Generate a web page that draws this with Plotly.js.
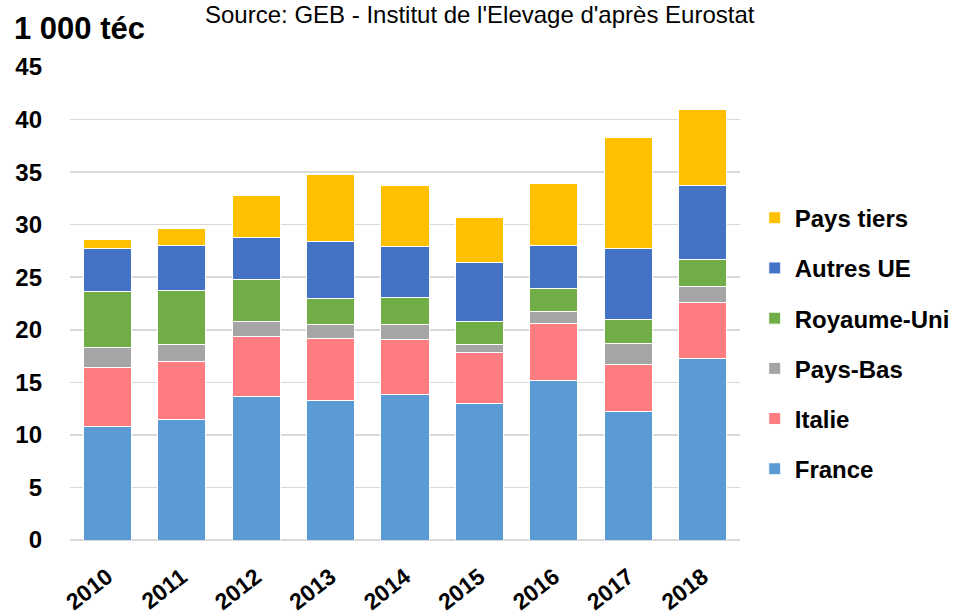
<!DOCTYPE html>
<html>
<head>
<meta charset="utf-8">
<script src="https://cdn.plot.ly/plotly-3.0.1.min.js"></script>
<style>html,body{margin:0;padding:0;background:#fff;}#chart{width:959px;height:616px;}</style>
</head>
<body>
<div id="chart"></div>
<script>
var years = ["2010","2011","2012","2013","2014","2015","2016","2017","2018"];
var france    = [10.8, 11.5, 13.7, 13.3, 13.85, 13.0, 15.2, 12.2, 17.3];
var italie    = [5.6, 5.5, 5.7, 5.9, 5.2, 4.8, 5.4, 4.5, 5.25];
var paysBas   = [1.9, 1.6, 1.4, 1.3, 1.5, 0.8, 1.1, 2.0, 1.55];
var royaumeUni= [5.3, 5.1, 4.0, 2.5, 2.5, 2.2, 2.2, 2.3, 2.6];
var autresUE  = [4.1, 4.3, 4.0, 5.4, 4.9, 5.6, 4.1, 6.7, 7.0];
var paysTiers = [0.9, 1.6, 4.0, 6.4, 5.8, 4.3, 5.9, 10.6, 7.3];

var seriesNames = ["France","Italie","Pays-Bas","Royaume-Uni","Autres UE","Pays tiers"];
var seriesData = [france, italie, paysBas, royaumeUni, autresUE, paysTiers];
var colors = ["#5b9bd5","#ff7c80","#a5a5a5","#70ad47","#4472c4","#ffc000"];

var traces = seriesNames.map(function(n,i){
  return {
    type:"bar", name:n, x:years, y:seriesData[i],
    legendgroup:"g"+i, legendrank:1000 - i*10,
    marker:{color:colors[i], line:{color:"#ffffff", width:1}},
    hoverinfo:"x+y+name"
  };
});

var font = "Liberation Sans, Arial, sans-serif";
var layout = {
  width:959, height:616,
  margin:{l:70, r:219, t:67, b:76, pad:0, autoexpand:false},
  paper_bgcolor:"#ffffff", plot_bgcolor:"#ffffff",
  barmode:"stack", bargap:0.355,
  font:{family:font, color:"#000000"},
  xaxis:{
    type:"category", tickangle:-38, automargin:false,
    tickfont:{family:font, size:23, weight:"bold", color:"#000"},
    showgrid:false, showline:false, ticks:"", zeroline:false,
    ticklabelstandoff:18
  },
  yaxis:{
    range:[0,45], dtick:5, tick0:0, automargin:false,
    tickfont:{family:font, size:24, weight:"bold", color:"#000"},
    showgrid:true, gridcolor:"#d9d9d9", gridwidth:1.5,
    zeroline:true, zerolinecolor:"#d9d9d9", zerolinewidth:1.5,
    showline:false, ticks:"", ticklabelstandoff:27
  },
  legend:{
    traceorder:"grouped", tracegroupgap:16,
    x:1.022, xanchor:"left", y:0.728, yanchor:"top",
    font:{family:font, size:24, weight:"bold", color:"#000"},
    itemwidth:30, bgcolor:"rgba(0,0,0,0)"
  },
  annotations:[
    {text:"1 000 téc", xref:"paper", yref:"paper", x:-0.087, xanchor:"left", y:1.082, yanchor:"middle",
     showarrow:false, font:{family:font, size:31, weight:"bold", color:"#000"}},
    {text:"Source: GEB - Institut de l'Elevage d'après Eurostat", xref:"paper", yref:"paper",
     x:0.612, xanchor:"center", y:1.112, yanchor:"middle", showarrow:false,
     font:{family:font, size:24, color:"#000"}}
  ],
  showlegend:true
};

Plotly.newPlot("chart", traces, layout, {displayModeBar:false, staticPlot:true});
</script>
</body>
</html>
